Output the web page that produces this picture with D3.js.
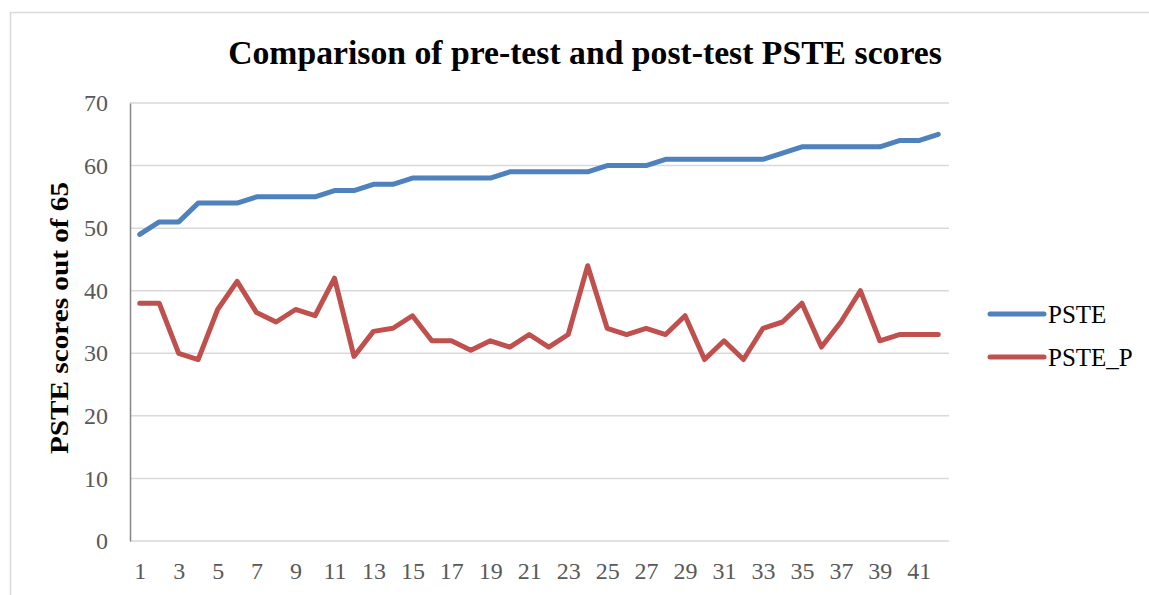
<!DOCTYPE html>
<html><head><meta charset="utf-8">
<script src="https://cdn.jsdelivr.net/npm/d3@7"></script>
<style>body{margin:0;background:#fff;} svg{display:block;}</style>
</head><body>
<svg id="chart" width="1149" height="595"></svg>
<script>
const categories = d3.range(1, 43);
const pste = [49,51,51,54,54,54,55,55,55,55,56,56,57,57,58,58,58,58,58,59,59,59,59,59,60,60,60,61,61,61,61,61,61,62,63,63,63,63,63,64,64,65];
const psteP = [38,38,30,29,37,41.5,36.5,35,37,36,42,29.5,33.5,34,36,32,32,30.5,32,31,33,31,33,44,34,33,34,33,36,29,32,29,34,35,38,31,35,40,32,33,33,33];
const yTicks = [0,10,20,30,40,50,60,70];
const xTickLabels = categories.filter(d => d % 2 === 1);
const seriesNames = ["PSTE", "PSTE_P"];
const colors = ["#4F81BD", "#C0504D"];

const svg = d3.select("#chart");
const W = 1149, H = 595;
const plot = {left:130, right:948, top:103, bottom:541};

svg.append("rect").attr("x",10.5).attr("y",12.5).attr("width",W).attr("height",H)
  .attr("fill","#fff").attr("stroke","#D9D9D9").attr("stroke-width",1.5);

const x = d3.scalePoint().domain(categories).range([plot.left, plot.right]).padding(0.5);
const y = d3.scaleLinear().domain([0,70]).range([plot.bottom, plot.top]);

const serif = "'Liberation Serif','DejaVu Serif',serif";

// gridlines
svg.append("g").selectAll("line").data(yTicks.filter(d=>d>0)).join("line")
  .attr("x1",plot.left).attr("x2",plot.right+1)
  .attr("y1",d=>y(d)).attr("y2",d=>y(d))
  .attr("stroke","#D9D9D9").attr("stroke-width",1.5);

// x axis line
svg.append("line").attr("x1",plot.left).attr("x2",plot.right+1)
  .attr("y1",plot.bottom).attr("y2",plot.bottom)
  .attr("stroke","#D9D9D9").attr("stroke-width",1.5);

// y axis
const yAxis = d3.axisLeft(y).tickValues(yTicks).tickSize(0).tickPadding(22);
const yg = svg.append("g").attr("transform",`translate(${plot.left},0)`).call(yAxis);
yg.select(".domain").attr("stroke","#868686").attr("stroke-width",1.5);
yg.selectAll("text").attr("font-family",serif).attr("font-size",24).attr("fill","#595959");

// x axis
const xAxis = d3.axisBottom(x).tickValues(xTickLabels).tickSize(0).tickPadding(21);
const xg = svg.append("g").attr("transform",`translate(0,${plot.bottom})`).call(xAxis);
xg.select(".domain").remove();
xg.selectAll("text").attr("font-family",serif).attr("font-size",24).attr("fill","#595959");

// lines
const line = d3.line().x((d,i)=>x(categories[i])).y(d=>y(d));
[pste, psteP].forEach((s,k)=>{
  svg.append("path").datum(s).attr("d",line).attr("fill","none")
    .attr("stroke",colors[k]).attr("stroke-width",5)
    .attr("stroke-linecap","round").attr("stroke-linejoin","round");
});

// title
const title = svg.append("text").attr("x",585).attr("y",64).attr("text-anchor","middle")
  .attr("font-family",serif).attr("font-weight","bold").attr("font-size",30).attr("fill","#000")
  .text("Comparison of pre-test and post-test PSTE scores");
const tw = title.node().getComputedTextLength();
title.attr("font-size", 30*714/tw);

// y label
svg.append("text").attr("transform","translate(68,318) rotate(-90)").attr("text-anchor","middle")
  .attr("font-family",serif).attr("font-weight","bold").attr("font-size",26).attr("fill","#000")
  .attr("textLength",272).attr("lengthAdjust","spacingAndGlyphs")
  .text("PSTE scores out of 65");

// legend
const legY = [314, 357];
seriesNames.forEach((n,k)=>{
  svg.append("line").attr("x1",990).attr("x2",1044).attr("y1",legY[k]).attr("y2",legY[k])
    .attr("stroke",colors[k]).attr("stroke-width",5).attr("stroke-linecap","round");
  svg.append("text").attr("x",1048).attr("y",legY[k]).attr("dy","0.35em")
    .attr("font-family",serif).attr("font-size",25).attr("fill","#000").text(n);
});
</script>
</body></html>
